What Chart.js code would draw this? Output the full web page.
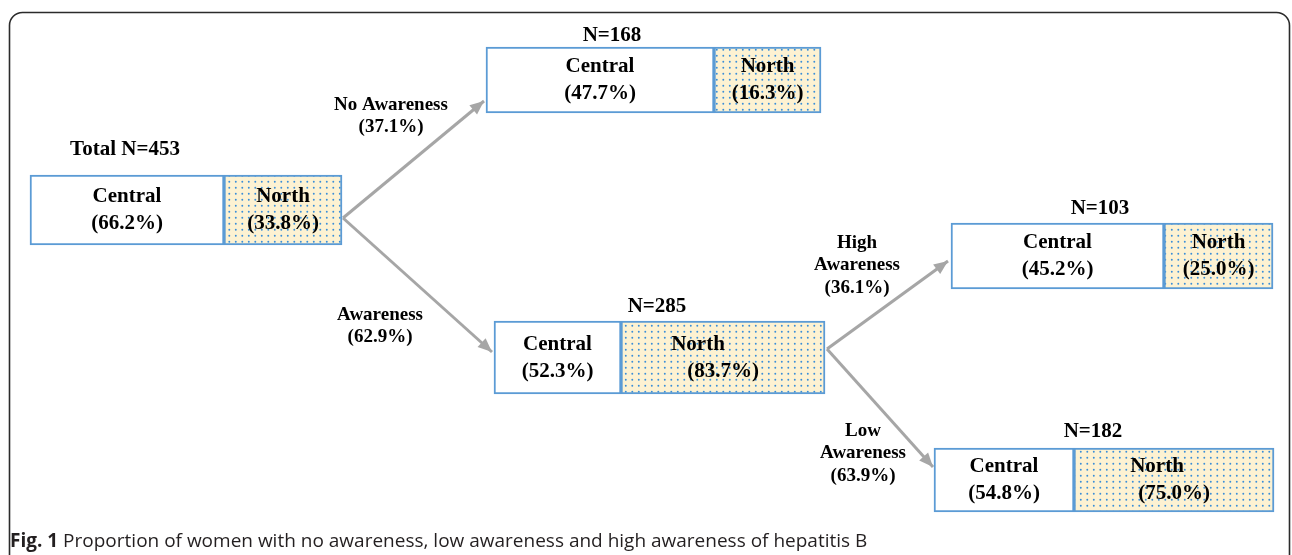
<!DOCTYPE html>
<html>
<head>
<meta charset="utf-8">
<script src="https://cdn.jsdelivr.net/npm/chart.js@4.4.0/dist/chart.umd.min.js"></script>
<style>
  html, body { margin: 0; padding: 0; background: #fff; }
  canvas { display: block; }
</style>
</head>
<body>
<canvas id="tree" width="1292" height="555"></canvas>
<script>
// ---- data ----
var regions = ["Central", "North"];
var nodeNames = ["Total", "No Awareness", "Awareness", "High Awareness", "Low Awareness"];
var nodeCounts = [453, 168, 285, 103, 182];
var centralShare = [66.2, 47.7, 52.3, 45.2, 54.8];
var northShare = [33.8, 16.3, 83.7, 25.0, 75.0];
var branchParent = [null, 0, 0, 2, 2];
var branchShare = [null, 37.1, 62.9, 36.1, 63.9];
var caption = ["Fig. 1", " Proportion of women with no awareness, low awareness and high awareness of hepatitis B"];

// ---- layout (axis units = pixels of the drawing) ----
var boxLeft = [30, 486, 494, 951, 934];
var boxSplit = [224, 714, 621, 1164, 1074];
var boxRight = [342, 821, 825, 1273, 1274];
var boxMid = [210, 80, 357.5, 256, 480];
var boxHeight = [70, 66, 73, 66, 64];
var northTextShift = [0, 0, -25, 0, -17];
var countLabelX = [125, 612, 657, 1100, 1093];
var countLabelY = [150, 36, 307, 209, 432];
var arrowStart = [null, [343, 218], [343, 218], [827, 349], [827, 349]];
var arrowEnd = [null, [484, 101], [492, 352], [948, 261], [933, 467]];
var branchLabelX = [null, 391, 380, 857, 863];
var branchLabelY = [null, 105, 315, 243, 431];
var branchLabelWrap = [null, false, false, true, true];

var canvas = document.querySelector("#tree");
var ctx0 = canvas.getContext("2d");

// dotted yellow fill for the North boxes
var tile = document.createElement("canvas");
tile.width = 13;
tile.height = 12;
var tctx = tile.getContext("2d");
tctx.fillStyle = "#fdf2d2";
tctx.fillRect(0, 0, 13, 12);
tctx.fillStyle = "#3a8ed8";
[[1, 1], [7.5, 1], [1, 7], [7.5, 7]].forEach(function (p) {
  tctx.beginPath();
  tctx.arc(p[0] + 0.8, p[1] + 0.8, 0.95, 0, Math.PI * 2);
  tctx.fill();
});
var dotPattern = ctx0.createPattern(tile, "repeat");

var serif = "'Liberation Serif', 'Times New Roman', serif";
var datasets = [];
var barSets = [];
var arrowSets = [];

nodeNames.forEach(function (name, i) {
  barSets.push(datasets.length);
  datasets.push({
    type: "bar",
    indexAxis: "y",
    grouped: false,
    barThickness: boxHeight[i],
    data: [
      { y: boxMid[i], x: [boxLeft[i], boxSplit[i]] },
      { y: boxMid[i], x: [boxSplit[i], boxRight[i]] }
    ],
    backgroundColor: ["#ffffff", dotPattern],
    borderColor: "#5b9bd5",
    borderWidth: 2,
    borderSkipped: false
  });
});

nodeNames.forEach(function (name, i) {
  if (branchParent[i] === null) return;
  arrowSets.push(datasets.length);
  datasets.push({
    type: "line",
    data: [
      { x: arrowStart[i][0], y: arrowStart[i][1] },
      { x: arrowEnd[i][0], y: arrowEnd[i][1] }
    ],
    borderColor: "#a6a6a6",
    borderWidth: 3,
    pointRadius: 0,
    fill: false,
    tension: 0
  });
});

var framePlugin = {
  id: "frame",
  beforeDraw: function (chart) {
    var ctx = chart.ctx;
    ctx.save();
    ctx.fillStyle = "#ffffff";
    ctx.fillRect(0, 0, chart.width, chart.height);
    ctx.strokeStyle = "#2b2b2b";
    ctx.lineWidth = 1.6;
    ctx.beginPath();
    ctx.roundRect(9.5, 12.5, 1280, 580, 13);
    ctx.stroke();
    ctx.restore();
  },
  afterDraw: function (chart) {
    var ctx = chart.ctx;
    ctx.save();
    ctx.fillStyle = "#231f20";
    ctx.textBaseline = "alphabetic";
    ctx.font = "bold 19px 'Open Sans', sans-serif";
    ctx.fillText(caption[0], 10, 547);
    var w = ctx.measureText(caption[0]).width;
    ctx.font = "19px 'Open Sans', sans-serif";
    ctx.fillText(caption[1], 10 + w, 547);
    ctx.restore();
  }
};

var labelPlugin = {
  id: "treeLabels",
  afterDatasetsDraw: function (chart) {
    var ctx = chart.ctx;
    var sx = chart.scales.x, sy = chart.scales.y;
    ctx.save();
    ctx.textAlign = "center";
    ctx.textBaseline = "middle";

    // arrow heads
    arrowSets.forEach(function (di) {
      var pts = chart.getDatasetMeta(di).data;
      var a = pts[0], b = pts[1];
      var ang = Math.atan2(b.y - a.y, b.x - a.x);
      ctx.fillStyle = "#a6a6a6";
      ctx.beginPath();
      ctx.moveTo(b.x, b.y);
      ctx.lineTo(b.x - 14 * Math.cos(ang) + 6 * Math.sin(ang), b.y - 14 * Math.sin(ang) - 6 * Math.cos(ang));
      ctx.lineTo(b.x - 14 * Math.cos(ang) - 6 * Math.sin(ang), b.y - 14 * Math.sin(ang) + 6 * Math.cos(ang));
      ctx.closePath();
      ctx.fill();
    });

    ctx.fillStyle = "#000000";
    ctx.font = "bold 21px " + serif;

    // text inside the boxes
    barSets.forEach(function (di, i) {
      var els = chart.getDatasetMeta(di).data;
      var shares = [centralShare[i], northShare[i]];
      els.forEach(function (el, j) {
        var cx = (el.x + el.base) / 2;
        var shift = j === 1 ? northTextShift[i] : 0;
        ctx.fillText(regions[j], cx + shift, el.y - 13);
        ctx.fillText("(" + shares[j].toFixed(1) + "%)", cx, el.y + 14);
      });
    });

    // N labels
    nodeCounts.forEach(function (n, i) {
      var txt = (i === 0 ? "Total N=" : "N=") + n;
      ctx.fillText(txt, sx.getPixelForValue(countLabelX[i]), sy.getPixelForValue(countLabelY[i]));
    });

    // branch labels
    ctx.font = "bold 19px " + serif;
    nodeNames.forEach(function (name, i) {
      if (branchParent[i] === null) return;
      var lines = branchLabelWrap[i] ? name.split(" ") : [name];
      lines.push("(" + branchShare[i].toFixed(1) + "%)");
      lines.forEach(function (line, k) {
        ctx.fillText(line, sx.getPixelForValue(branchLabelX[i]), sy.getPixelForValue(branchLabelY[i] + k * 22.5));
      });
    });
    ctx.restore();
  }
};

var tree_chart = new Chart(canvas, {
  type: "bar",
  data: { datasets: datasets },
  options: {
    responsive: false,
    animation: false,
    devicePixelRatio: 1,
    events: [],
    layout: { padding: 0 },
    plugins: {
      legend: { display: false },
      tooltip: { enabled: false }
    },
    scales: {
      x: { type: "linear", display: false, min: 0, max: 1292, offset: false },
      y: { type: "linear", display: false, min: 0, max: 555, reverse: true, offset: false }
    }
  },
  plugins: [framePlugin, labelPlugin]
});
</script>
</body>
</html>
